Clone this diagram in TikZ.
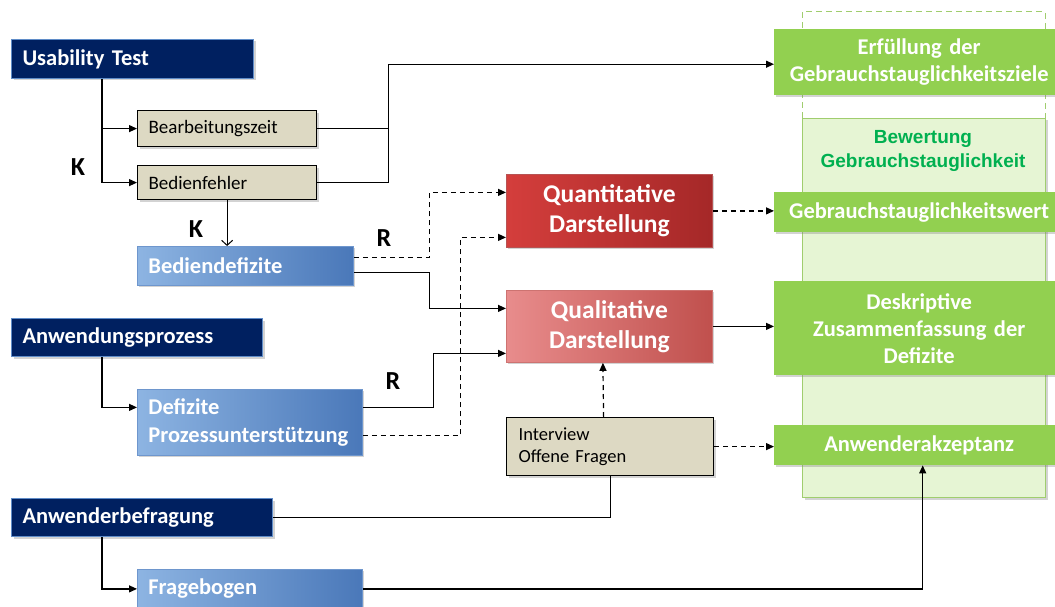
\documentclass[tikz,border=0pt]{standalone}
\usepackage{fontspec}
\setmainfont{Carlito}
\newfontfamily\arialfont{Liberation Sans}
\usetikzlibrary{arrows.meta,shadows}

\definecolor{navy}{RGB}{0,32,96}
\definecolor{navyedge}{RGB}{95,140,200}
\definecolor{tan}{RGB}{221,217,195}
\definecolor{blueL}{RGB}{141,180,226}
\definecolor{blueR}{RGB}{74,120,185}
\definecolor{blueedge}{RGB}{110,150,205}
\definecolor{qnL}{RGB}{212,62,60}
\definecolor{qnR}{RGB}{165,40,40}
\definecolor{qlL}{RGB}{232,140,140}
\definecolor{qlR}{RGB}{192,80,77}
\definecolor{grn}{RGB}{146,208,80}
\definecolor{pnlfill}{RGB}{230,245,212}
\definecolor{pnledge}{RGB}{160,205,110}
\definecolor{grntext}{RGB}{0,176,80}

\begin{document}
\begin{tikzpicture}[x=1pt,y=-1pt,
    conn/.style={line width=1.2pt,-{Triangle[length=8pt,width=7pt]}},
    plain/.style={line width=1.2pt},
    dashconn/.style={conn,dash pattern=on 5pt off 4pt},
    shade/.style={drop shadow={shadow xshift=2pt,shadow yshift=-2pt,opacity=.35}},
    box/.style={anchor=north west,inner xsep=11pt,inner ysep=0pt,align=left},
    navybox/.style={box,draw=navyedge,line width=1pt,fill=navy,text=white,
        minimum height=39pt,font=\fontsize{22.5}{26}\selectfont\bfseries,shade},
    tanbox/.style={box,draw=black,line width=1.2pt,fill=tan,
        font=\fontsize{19}{22}\selectfont,shade},
    bluebox/.style={box,draw=blueedge,line width=.8pt,left color=blueL,right color=blueR,
        text=white,font=\fontsize{22.5}{28}\selectfont\bfseries,shade},
    redbox/.style={box,align=center,inner xsep=8pt,text width=190pt,draw=#1R!80!white,line width=.8pt,
        left color=#1L,right color=#1R,text=white,font=\fontsize{25.5}{30}\selectfont\bfseries,shade},
    greenbox/.style={box,align=center,inner xsep=8pt,text width=274pt,fill=grn,text=white,
        font=\fontsize{22.5}{27}\selectfont\bfseries,shade},
    lbl/.style={font=\fontsize{26}{28}\selectfont\bfseries}
]
\useasboundingbox (0,0) rectangle (1055,607);

% Bewertung
\draw [pnledge,line width=1pt,dash pattern=on 6pt off 4pt] (802,118) -- (802,12) -- (1045,12) -- (1045,118);
\node [anchor=north west,draw=pnledge,line width=1pt,fill=pnlfill,minimum width=243pt,minimum height=379pt,shade] (pnl) at (802,118) {};
\node [align=center,text=grntext,font=\arialfont\fontsize{19}{24}\selectfont\bfseries] (bew) at (923,151) {Bewertung\\Gebrauchstauglichkeit};

\node [greenbox,minimum height=66pt] (erf) at (774,29) {Erfüllung der\\Gebrauchstauglichkeitsziele};
\node [greenbox,minimum height=40pt] (gw) at (774,192) {Gebrauchstauglichkeitswert};
\node [greenbox,minimum height=94pt] (dz) at (774,281) {Deskriptive\\Zusammenfassung der\\Defizite};
\node [greenbox,minimum height=40pt] (ak) at (774,425) {Anwenderakzeptanz};

% links
\node [navybox,text width=220pt] (ut) at (11,39) {Usability Test};
\node [tanbox,text width=157pt,minimum height=36pt] (bz) at (137,110) {Bearbeitungszeit};
\node [tanbox,text width=157pt,minimum height=34pt] (bf) at (137,165) {Bedienfehler};
\node [bluebox,text width=194pt,minimum height=39pt] (bd) at (137,246) {Bediendefizite};
\node [navybox,text width=229pt,minimum height=38pt] (ap) at (11,318) {Anwendungsprozess};
\node [bluebox,text width=203pt,minimum height=66pt] (dp) at (137,389) {Defizite\\Prozessunterstützung};
\node [navybox,text width=239pt,minimum height=38pt] (ab) at (11,498) {Anwenderbefragung};
\node [bluebox,text width=203pt,minimum height=39pt] (fb) at (137,569) {Fragebogen};

% Mitte
\node [redbox=qn,minimum height=73pt] (qn) at (506,174) {Quantitative\\Darstellung};
\node [redbox=ql,minimum height=72pt] (ql) at (506,290) {Qualitative\\Darstellung};
\node [tanbox,inner xsep=12pt,text width=183pt,minimum height=58pt,font=\fontsize{18.5}{22}\selectfont] (iv) at (506,417) {Interview\\Offene Fragen};

\node [lbl] (k1) at (78,167) {K};
\node [lbl] (k2) at (196,229) {K};
\node [lbl] (r1) at (384,238) {R};
\node [lbl] (r2) at (393,381) {R};

\draw [conn] ([xshift=91pt]ut.south west) |- (bz.west);
\draw [conn] ([xshift=91pt]ut.south west) |- (bf.west);
\draw [plain] (bz.east) -- ++(71,0) coordinate (j1);
\draw [conn] (bf.east) -| (j1) |- ([yshift=-2pt]erf.west);
\draw [line width=1pt,-{Straight Barb[length=5pt,width=11pt]}] (bf.south) -- (bf.south |- bd.north);
\draw [dashconn] ([yshift=8.5pt]bd.east) -- ++(76,0) |- ([yshift=18.5pt]qn.west);
\draw [conn] ([yshift=-6.5pt]bd.east) -- ++(76,0) |- ([yshift=18pt]ql.west);
\draw [conn] ([yshift=15pt]dp.east) -- ++(71,0) |- ([yshift=-27pt]ql.west);
\draw [dashconn] ([yshift=-13pt]dp.east) -- ++(98,0) |- ([yshift=-26.5pt]qn.west);
\draw [dashconn] (qn.east) -- (qn.east -| gw.west);
\draw [conn] (ql.east) -- (ql.east -| dz.west);
\draw [dashconn] ([xshift=-6.5pt]iv.north) -- ([xshift=-6.5pt]ql.south);
\draw [dashconn] (iv.east) -- (iv.east -| ak.west);
\draw [plain] (ab.east) -| (iv.south);
\draw [conn] ([xshift=91pt]ap.south west) |- ([yshift=15pt]dp.west);
\draw [conn] ([xshift=91pt]ab.south west) |- (fb.west);
\draw [conn] (fb.east) -| ([xshift=3.5pt]ak.south);
\end{tikzpicture}
\end{document}
